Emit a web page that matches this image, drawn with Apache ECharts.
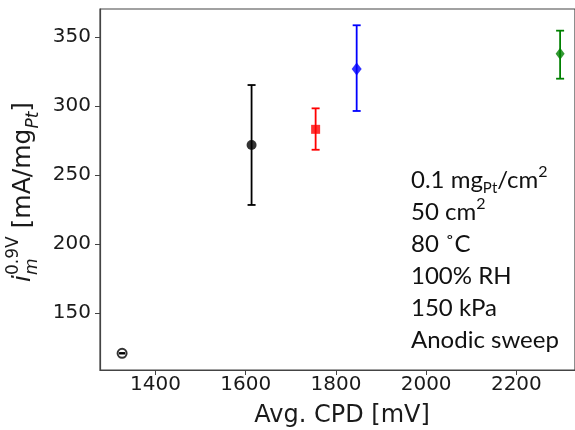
<!DOCTYPE html>
<html>
<head>
<meta charset="utf-8">
<script src="https://cdn.jsdelivr.net/npm/echarts@6/dist/echarts.min.js"></script>
<style>
html,body{margin:0;padding:0;background:#fff;}
#c{width:575px;height:430px;}
</style>
</head>
<body>
<div id="c"></div>
<script>
// ---- data ----
var cpd      = [1326, 1613, 1755, 1846, 2297];
var imass    = [120.8, 271.7, 283.1, 326.8, 337.9];
var errLow   = [120.6, 228.3, 268.3, 296.4, 319.8];
var errHigh  = [121.0, 315.2, 298.3, 358.5, 354.6];
var xTicks   = [1400, 1600, 1800, 2000, 2200];
var yTicks   = [150, 200, 250, 300, 350];
var notes    = ['0.1 mg{sub|Pt}/cm{sup|2}', '50 cm{sup|2}', '80 \u02DAC', '100% RH', '150 kPa', 'Anodic sweep'];

// ---- styles ----
var ptColors  = ['#000000', '#000000', '#ff0000', '#0000ff', '#008000'];
var ptSymbols = ['emptyCircle', 'circle', 'rect', 'diamond', 'diamond'];
var ptSizes   = [9, 10, 9, [10, 13], [9, 12]];
var capHalf   = [3, 4, 4, 4, 4];

var chart = echarts.init(document.getElementById('c'), null, {renderer: 'canvas'});

var scatterData = cpd.map(function (x, i) {
  return {
    value: [x, imass[i]],
    symbol: ptSymbols[i],
    symbolSize: ptSizes[i],
    itemStyle: {
      color: ptColors[i],
      borderColor: ptColors[i],
      borderWidth: ptSymbols[i] === 'emptyCircle' ? 1.8 : 0
    }
  };
});
var errData = cpd.map(function (x, i) { return [x, errLow[i], errHigh[i], i]; });

var option = {
  animation: false,
  backgroundColor: '#ffffff',
  grid: {left: 100, right: -3, top: 9, bottom: 60, show: true, borderColor: '#444', borderWidth: 1.2, backgroundColor: 'transparent'},
  xAxis: {
    type: 'value', min: 1277, max: 2330,
    axisLine: {show: true, lineStyle: {color: '#444', width: 1.2}},
    axisTick: {show: true, length: 5, customValues: xTicks, lineStyle: {color: '#444', width: 1}},
    axisLabel: {customValues: xTicks, formatter: function (v) { return String(v); }, fontSize: 20, fontFamily: 'DejaVu Sans', color: '#1a1a1a', margin: 5},
    splitLine: {show: false}
  },
  yAxis: {
    type: 'value', min: 108.7, max: 370.3,
    axisLine: {show: true, lineStyle: {color: '#444', width: 1.2}},
    axisTick: {show: true, length: 5, customValues: yTicks, lineStyle: {color: '#444', width: 1}},
    axisLabel: {customValues: yTicks, formatter: function (v) { return String(v); }, fontSize: 20, fontFamily: 'DejaVu Sans', color: '#1a1a1a', margin: 9},
    splitLine: {show: false}
  },
  series: [
    {
      type: 'scatter',
      data: scatterData,
      z: 3
    },
    {
      type: 'custom',
      z: 4,
      data: errData,
      renderItem: function (params, api) {
        var x = api.value(0);
        var lo = api.coord([x, api.value(1)]);
        var hi = api.coord([x, api.value(2)]);
        var idx = api.value(3);
        var c = ptColors[idx];
        var hw = capHalf[idx];
        var st = {stroke: c, lineWidth: 1.8};
        return {
          type: 'group',
          children: [
            {type: 'line', shape: {x1: lo[0], y1: lo[1], x2: hi[0], y2: hi[1]}, style: st},
            {type: 'line', shape: {x1: lo[0] - hw, y1: lo[1], x2: lo[0] + hw, y2: lo[1]}, style: st},
            {type: 'line', shape: {x1: hi[0] - hw, y1: hi[1], x2: hi[0] + hw, y2: hi[1]}, style: st}
          ]
        };
      }
    }
  ],
  graphic: [
    {
      type: 'text', x: 342, y: 416,
      style: {text: 'Avg. CPD [mV]', fontSize: 24, fontFamily: 'DejaVu Sans', fill: '#1a1a1a', align: 'center', verticalAlign: 'middle'}
    },
    {
      type: 'group', x: 5, y: 282, rotation: Math.PI / 2,
      children: [
        {
          type: 'text', x: 0, y: 0,
          style: {
            text: '{it|i}{sup|0.9V}{n| [mA/mg}{sub|Pt}{n|]}',
            align: 'left', verticalAlign: 'top', fill: '#1a1a1a',
            rich: {
              it: {fontSize: 25, fontFamily: 'DejaVu Sans', fontStyle: 'italic', lineHeight: 37, fill: '#1a1a1a'},
              n: {fontSize: 25, fontFamily: 'DejaVu Sans', lineHeight: 37, fill: '#1a1a1a'},
              sup: {fontSize: 17, fontFamily: 'DejaVu Sans', lineHeight: 17, verticalAlign: 'top', fill: '#1a1a1a'},
              sub: {fontSize: 17, fontFamily: 'DejaVu Sans', fontStyle: 'italic', lineHeight: 17, verticalAlign: 'bottom', fill: '#1a1a1a'}
            }
          }
        },
        {
          type: 'text', x: 7, y: 28,
          style: {text: 'm', fontSize: 17, fontFamily: 'DejaVu Sans', fontStyle: 'italic', fill: '#1a1a1a', align: 'left', verticalAlign: 'middle'}
        }
      ]
    },
    {
      type: 'text', x: 411, y: 164,
      style: {
        text: notes.map(function (s) { return '{n|' + s.replace(/\{(sub|sup)\|([^}]*)\}/g, '}{$1|$2}{n|') + '}'; }).join('\n'),
        align: 'left', verticalAlign: 'top', fill: '#111',
        rich: {
          n: {fontSize: 24, fontFamily: 'Lato', lineHeight: 32, fill: '#111'},
          sup: {fontSize: 16, fontFamily: 'Lato', lineHeight: 17, verticalAlign: 'top', fill: '#111'},
          sub: {fontSize: 15, fontFamily: 'Lato', lineHeight: 15, verticalAlign: 'bottom', fill: '#111'}
        }
      }
    }
  ]
};
chart.setOption(option);
</script>
</body>
</html>
